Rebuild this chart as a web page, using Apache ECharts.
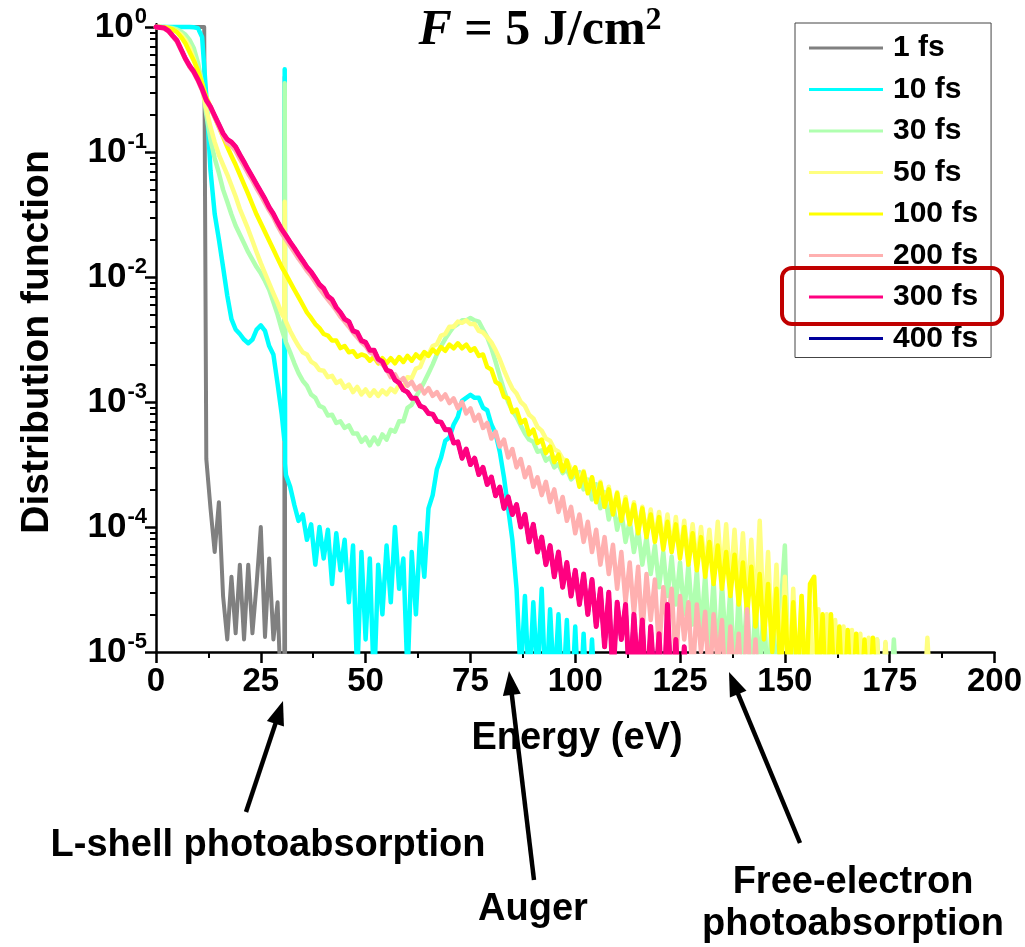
<!DOCTYPE html>
<html>
<head>
<meta charset="utf-8">
<script src="https://cdn.jsdelivr.net/npm/echarts@6/dist/echarts.min.js"></script>
<style>
  html, body { margin: 0; padding: 0; background: #fff; }
  #chart { width: 1025px; height: 947px; }
</style>
</head>
<body>
<div id="chart"></div>
<script>
// ---------------- DATA ----------------
// Energy grid (eV), 1 eV steps, index i -> i eV
const energy = Array.from({ length: 201 }, (_, i) => i);
// extra energies for sharp features
const edgeEnergy = [11.5];
const spikeEnergy = [30.6, 30.7, 30.8];

const xTicks = [0, 25, 50, 75, 100, 125, 150, 175, 200];
const yMajor = [1e-5, 1e-4, 1e-3, 1e-2, 1e-1, 1];

const seriesNames = ['1 fs', '10 fs', '30 fs', '50 fs', '100 fs', '200 fs', '300 fs', '400 fs'];

// 1 fs
const f1 = [
  1,1,1,1,1,1,1,1,1,1,
  1,1,3.5e-4,1.41e-4,6.3e-5,1.58e-4,2.8e-5,1.26e-5,4e-5,1.41e-5,
  5e-5,1.26e-5,5e-5,1.41e-5,3.5e-5,1e-4,1.32e-5,5.6e-5,1.26e-5,2.5e-5,
  3e-6,3e-6
];
const f1Edge = [1.0];
const f1Spike = [3e-6, 0.4, 3e-6];

// 10 fs
const f10 = [
  1,1,1,1,1,1,1,1,1,0.995,
  0.98,0.83,0.28,0.071,0.032,0.02,0.012,0.0071,0.0046,0.0038,
  0.0035,0.00316,0.00295,0.00316,0.0038,0.0041,0.0037,0.0028,0.0024,0.0014,
  7.9e-4,2.6e-4,2.1e-4,1.5e-4,1.12e-4,1.26e-4,7.9e-5,1.05e-4,5e-5,1e-4,
  5.6e-5,9.5e-5,3.5e-5,8.9e-5,4.5e-5,7.9e-5,2.5e-5,7.1e-5,6.3e-6,6.3e-5,
  1.26e-5,5.6e-5,5e-6,5e-5,2e-5,7.1e-5,2.5e-5,1e-4,3.2e-5,5.6e-5,
  6.3e-6,6.3e-5,2e-5,8.9e-5,4e-5,1.41e-4,1.8e-4,2.9e-4,3.6e-4,4.9e-4,
  5.2e-4,6.6e-4,7.6e-4,1.02e-3,1.08e-3,1.14e-3,1.08e-3,1.08e-3,9.0e-4,8.6e-4,
  6.6e-4,5.6e-4,4e-4,2.5e-4,1.41e-4,7.9e-5,3.2e-5,6.3e-6,2.8e-5,5e-6,
  2.5e-5,6e-6,3.2e-5,4e-6,2.2e-5,5e-6,2e-5,4e-6,1.8e-5,3e-6,
  1.6e-5,3e-6,1.4e-5,3e-6,1.26e-5,3e-6
];
const f10Spike = [5e-4, 0.46, 3.2e-4];

// 30 fs
const f30 = [
  1,1,1,0.99,0.98,0.955,0.92,0.87,0.79,0.68,
  0.52,0.355,0.2,0.126,0.089,0.068,0.05,0.04,0.0316,0.0257,
  0.0219,0.0186,0.0158,0.0138,0.012,0.0107,0.0093,0.0079,0.0063,0.005,
  0.0038,0.003,0.0025,0.00204,0.0017,0.00148,0.00135,0.00115,0.00108,0.00093,
  9e-4,7.8e-4,7.9e-4,6.8e-4,7e-4,6.2e-4,6.5e-4,5.6e-4,5.6e-4,4.8e-4,
  5.2e-4,4.5e-4,5.2e-4,4.6e-4,5.5e-4,5.0e-4,6.0e-4,5.8e-4,7.0e-4,7.0e-4,
  9e-4,9.5e-4,0.0011,0.00126,0.00145,0.0017,0.002,0.0024,0.0028,0.0032,
  0.0036,0.004,0.0042,0.0045,0.0045,0.0047,0.0045,0.0044,0.0038,0.0033,
  0.0027,0.0021,0.0016,0.00125,0.001,8.5e-4,7.6e-4,6.5e-4,5.6e-4,5e-4,
  4.8e-4,4e-4,4.1e-4,3.4e-4,3.6e-4,3e-4,3.2e-4,2.7e-4,2.9e-4,2.4e-4,
  2.6e-4,2.75e-4,2e-4,2.4e-4,1.66e-4,2.2e-4,1.41e-4,1.9e-4,1.15e-4,1.58e-4,
  9.5e-5,1.32e-4,7.6e-5,1.12e-4,6.3e-5,9.5e-5,5e-5,8.3e-5,4.2e-5,7.1e-5,
  3.3e-5,6.3e-5,2.8e-5,5.8e-5,2.4e-5,5.2e-5,2e-5,5e-5,1.66e-5,4.5e-5,
  1.4e-5,4.2e-5,1.12e-5,3.8e-5,8e-6,3.5e-5,1e-5,3.2e-5,6e-6,3e-5,
  8e-6,2.8e-5,5e-6,2.6e-5,6e-6,2.5e-5,4e-6,2.4e-5,5e-6,2.2e-5,
  7.1e-5,4e-6,2e-5,3e-6,1.8e-5,3e-6,1.6e-5,3e-6,1.5e-5,3e-6,
  1.4e-5,3e-6,1.3e-5,3e-6,1.26e-5,3e-6,1.2e-5,3e-6,1.15e-5,3e-6,
  1.1e-5,3e-6,1.26e-5,3e-6,1.17e-5,3e-6,1.26e-5,3e-6
];
const f30Spike = [3.3e-3, 0.355, 3.2e-3];

// 50 fs
const f50 = [
  1,1,0.99,0.98,0.955,0.92,0.87,0.79,0.69,0.56,
  0.44,0.32,0.22,0.158,0.12,0.095,0.079,0.066,0.054,0.044,
  0.035,0.029,0.024,0.0195,0.0158,0.0129,0.0107,0.0089,0.0074,0.0062,
  0.0051,0.0044,0.0037,0.0032,0.0028,0.0025,0.0024,0.0021,0.002,0.0018,
  0.00178,0.00158,0.00162,0.00142,0.00148,0.0013,0.00138,0.0012,0.00132,0.00115,
  0.00126,0.00112,0.00124,0.00112,0.00124,0.00115,0.00128,0.0012,0.00138,0.0013,
  0.00158,0.00155,0.00185,0.0019,0.0023,0.0024,0.0028,0.0029,0.0034,0.0035,
  0.004,0.004,0.0044,0.0043,0.0045,0.0042,0.0042,0.0037,0.0036,0.0033,
  0.003,0.0026,0.0022,0.0018,0.0015,0.00128,0.00117,0.001,9.3e-4,7.9e-4,
  7.4e-4,6.3e-4,5.9e-4,5.1e-4,4.9e-4,4.2e-4,4e-4,3.5e-4,3.4e-4,2.9e-4,
  2.9e-4,2.4e-4,2.8e-4,2e-4,2.5e-4,1.66e-4,2.3e-4,1.48e-4,2.1e-4,1.32e-4,
  1.9e-4,1.17e-4,1.74e-4,1.05e-4,1.58e-4,9.3e-5,1.45e-4,8.7e-5,1.38e-4,7.9e-5,
  1.32e-4,7.2e-5,1.26e-4,6.6e-5,1.2e-4,6e-5,1.12e-4,5.5e-5,1.05e-4,5e-5,
  1e-4,4.6e-5,9.5e-5,4.2e-5,1.1e-4,3.8e-5,1.05e-4,3.3e-5,9.5e-5,2.8e-5,
  8.9e-5,2.5e-5,7.9e-5,2e-5,1.12e-4,1.6e-5,6.3e-5,1.12e-5,5e-5,8e-6,
  4e-5,6e-6,3.2e-5,5e-6,2.8e-5,4e-6,2.5e-5,4e-6,2.2e-5,3e-6,
  2e-5,3e-6,1.8e-5,3e-6,1.6e-5,3e-6,1.5e-5,3e-6,1.4e-5,3e-6,
  1.3e-5,3e-6,1.26e-5,3e-6,1.2e-5,3e-6,null,null,null,null,
  null,null,null,3e-6,1.3e-5,3e-6
];
const f50Spike = [4.7e-3, 0.04, 4.6e-3];

// 100 fs
const f100 = [
  1,1,0.99,0.98,0.955,0.91,0.83,0.74,0.63,0.54,
  0.45,0.355,0.275,0.23,0.19,0.158,0.132,0.11,0.093,0.079,
  0.066,0.055,0.046,0.038,0.0316,0.0269,0.0229,0.0195,0.0166,0.0141,
  0.012,0.0105,0.0091,0.0079,0.0069,0.006,0.0052,0.0047,0.0042,0.0039,
  0.0035,0.0034,0.0031,0.0031,0.0027,0.0028,0.0025,0.00255,0.0023,0.0024,
  0.00234,0.00214,0.00229,0.00204,0.00224,0.00204,0.00224,0.00204,0.00229,0.00209,
  0.00234,0.00214,0.0024,0.00224,0.00251,0.00234,0.00263,0.00245,0.00275,0.00257,
  0.00288,0.00269,0.00295,0.00269,0.00288,0.00257,0.00269,0.00234,0.0024,0.0019,
  0.00182,0.00145,0.00138,0.0011,0.00107,8.3e-4,8.7e-4,6.8e-4,7.2e-4,5.5e-4,
  6e-4,4.7e-4,5e-4,3.9e-4,4.4e-4,3.3e-4,3.8e-4,2.8e-4,3.4e-4,2.5e-4,
  3e-4,2.1e-4,2.75e-4,1.86e-4,2.5e-4,1.58e-4,2.24e-4,1.45e-4,2e-4,1.26e-4,
  1.86e-4,1.12e-4,1.66e-4,1.05e-4,1.51e-4,8.9e-5,1.41e-4,8.3e-5,1.26e-4,7.6e-5,
  1.2e-4,6.6e-5,1.1e-4,6.3e-5,1.05e-4,5.6e-5,1e-4,5e-5,8.9e-5,4.5e-5,
  8.3e-5,4e-5,7.6e-5,3.5e-5,7.1e-5,3.2e-5,6.3e-5,2.8e-5,6e-5,2.4e-5,
  5.2e-5,2e-5,4.8e-5,1.6e-5,4.2e-5,1.26e-5,3.5e-5,1e-5,3.2e-5,6e-6,
  2.75e-5,5e-6,2.5e-5,6e-6,2.8e-5,4e-6,3.5e-5,4e-5,5e-6,2e-5,
  3e-6,2e-5,4e-6,1.6e-5,3e-6,1.5e-5,3e-6,1.4e-5,3e-6,1.26e-5,
  3e-6,1.3e-5,3e-6
];

// 200 fs
const f200 = [
  1,0.99,0.975,0.92,0.84,0.76,0.65,0.55,0.48,0.43,
  0.37,0.31,0.255,0.225,0.19,0.16,0.135,0.118,0.112,0.102,
  0.088,0.077,0.067,0.059,0.051,0.045,0.039,0.034,0.03,0.0256,
  0.0223,0.0199,0.0177,0.0158,0.014,0.0126,0.0112,0.0102,0.0091,0.0081,
  0.0073,0.0066,0.006,0.0054,0.0048,0.0044,0.004,0.0036,0.0033,0.003,
  0.0028,0.0025,0.0024,0.0021,0.002,0.00182,0.00158,0.00166,0.00145,0.00155,
  0.00135,0.00145,0.00126,0.00135,0.00117,0.00129,0.00112,0.0012,0.00105,0.00115,
  9.8e-4,1.07e-3,8.9e-4,1e-3,8.1e-4,8.9e-4,7.1e-4,7.9e-4,6.2e-4,6.8e-4,
  5.1e-4,5.8e-4,4.4e-4,5e-4,3.6e-4,4.2e-4,3e-4,3.5e-4,2.5e-4,3e-4,
  2.1e-4,2.5e-4,1.8e-4,2.3e-4,1.58e-4,2e-4,1.32e-4,1.74e-4,1.12e-4,1.45e-4,
  8.9e-5,1.26e-4,7.6e-5,1.1e-4,6.3e-5,9.5e-5,5e-5,8.3e-5,4.2e-5,7.2e-5,
  3.2e-5,6.3e-5,2.5e-5,5.2e-5,2e-5,4.8e-5,1.4e-5,4.2e-5,1.8e-5,3.8e-5,
  1e-5,3.3e-5,1.6e-5,3.2e-5,8e-6,2.8e-5,1.26e-5,2.5e-5,6e-6,2.4e-5,
  1e-5,2.1e-5,5e-6,2e-5,8e-6,1.8e-5,4e-6,1.6e-5,6e-6,1.4e-5,
  3e-6,2.2e-5,4e-6,1.26e-5,3e-6
];

// 300 fs
const f300 = [
  1,0.99,0.98,0.93,0.85,0.78,0.66,0.56,0.49,0.44,
  0.38,0.32,0.26,0.23,0.195,0.166,0.141,0.126,0.12,0.11,
  0.095,0.083,0.072,0.063,0.055,0.048,0.042,0.036,0.032,0.0275,
  0.024,0.0214,0.019,0.017,0.0151,0.0135,0.012,0.011,0.0098,0.0087,
  0.0081,0.007,0.0066,0.0057,0.0052,0.0046,0.0044,0.0037,0.0036,0.0031,
  0.003,0.0026,0.0026,0.0022,0.0021,0.0018,0.00175,0.0015,0.00142,0.00125,
  0.0012,0.00107,0.00107,0.00093,0.0009,0.00081,0.0008,0.0007,0.00069,0.0006,
  6e-4,4.7e-4,4.8e-4,3.55e-4,4.2e-4,3.16e-4,3.55e-4,2.63e-4,3e-4,2.19e-4,
  2.51e-4,1.78e-4,2.09e-4,1.41e-4,1.74e-4,1.26e-4,1.51e-4,1e-4,1.26e-4,7.6e-5,
  1.05e-4,6.3e-5,8.3e-5,5e-5,7.1e-5,4e-5,6.3e-5,3.3e-5,5.2e-5,2.8e-5,
  4.5e-5,2.4e-5,4.2e-5,2e-5,3.8e-5,1.6e-5,3.2e-5,1.1e-5,3e-5,6e-6,
  2.5e-5,1.26e-5,2.4e-5,5e-6,2e-5,6e-6,1.8e-5,4e-6,1.6e-5,5e-6,
  1.4e-5,3e-6,2.4e-5,4e-6,1.26e-5,3e-6,1.1e-5,3e-6
];

// 400 fs coincides with 300 fs (hidden beneath it)
const f400 = f300;

// ---------------- BUILD ----------------
function toPairs(vals, extraE, extraV) {
  const pts = [];
  vals.forEach((v, i) => pts.push([energy[i], v === null ? '-' : v]));
  if (extraE && extraV) extraE.forEach((e, k) => pts.push([e, extraV[k]]));
  pts.sort((a, b) => a[0] - b[0]);
  return pts;
}

const FONT = "'Liberation Sans', Arial, Helvetica, sans-serif";
const SERIF = "'Liberation Serif', 'Times New Roman', serif";

const yMinor = [];
for (let d = -5; d < 0; d++) for (let k = 2; k <= 9; k++) yMinor.push(+(k * Math.pow(10, d)).toPrecision(3));

function lineSeries(name, color, width, data, z) {
  return {
    name, type: 'line', data, color,
    showSymbol: false, symbol: 'none', clip: true, connectNulls: false,
    lineStyle: { color, width, join: 'round', cap: 'round' },
    itemStyle: { color },
    emphasis: { disabled: true },
    z: z, animation: false
  };
}

const series = [
  lineSeries('400 fs', '#00009C', 4, toPairs(f400), 1),
  lineSeries('1 fs', '#808080', 4, toPairs(f1, edgeEnergy.concat(spikeEnergy), f1Edge.concat(f1Spike)), 2),
  lineSeries('10 fs', '#00FFFF', 4.5, toPairs(f10, spikeEnergy, f10Spike), 3),
  lineSeries('30 fs', '#B0FFB0', 4.5, toPairs(f30, spikeEnergy, f30Spike), 4),
  lineSeries('50 fs', '#FFFF80', 4.5, toPairs(f50, spikeEnergy, f50Spike), 5),
  lineSeries('100 fs', '#FFFF00', 4.5, toPairs(f100), 6),
  lineSeries('200 fs', '#FFB0B0', 4.5, toPairs(f200), 7),
  lineSeries('300 fs', '#FF0080', 5, toPairs(f300), 8)
];

// arrows (annotation graphics)
function arrow(tail, tip) {
  const dx = tip[0] - tail[0], dy = tip[1] - tail[1];
  const len = Math.hypot(dx, dy);
  const ux = dx / len, uy = dy / len;
  const L = 24, W = 9;
  const bx = tip[0] - ux * L, by = tip[1] - uy * L;
  return [
    { type: 'line', shape: { x1: tail[0], y1: tail[1], x2: bx + ux * 2, y2: by + uy * 2 },
      style: { stroke: '#000', lineWidth: 4.5 }, z: 20 },
    { type: 'polygon', shape: { points: [tip, [bx - uy * W, by + ux * W], [bx + uy * W, by - ux * W]] },
      style: { fill: '#000' }, z: 20 }
  ];
}

function label(text, x, y, size) {
  return { type: 'text', x, y, z: 20,
    style: { text, fontFamily: FONT, fontWeight: 'bold', fontSize: size, fill: '#000',
      align: 'center', verticalAlign: 'middle' } };
}

const chart = echarts.init(document.getElementById('chart'), null, { renderer: 'canvas' });
chart.setOption({
  animation: false,
  backgroundColor: '#fff',
  grid: { left: 156, right: 30, top: 24.35, bottom: 295, containLabel: false },
  xAxis: {
    type: 'value', min: 0, max: 200, interval: 25,
    axisLine: { show: true, onZero: false, lineStyle: { color: '#000', width: 2.5 } },
    axisTick: { show: true, length: 11, lineStyle: { color: '#000', width: 2.5 } },
    minorTick: { show: true, splitNumber: 2, length: 6, lineStyle: { color: '#000', width: 2 } },
    splitLine: { show: false }, minorSplitLine: { show: false },
    axisLabel: { fontFamily: FONT, fontWeight: 'bold', fontSize: 33, color: '#000', margin: 13,
      customValues: xTicks }
  },
  yAxis: [{
    type: 'log', logBase: 10, min: 1e-5, max: 1.05,
    axisLine: { show: true, lineStyle: { color: '#000', width: 2.5 } },
    axisTick: { show: true, length: 11, lineStyle: { color: '#000', width: 2.5 }, customValues: yMajor },
    splitLine: { show: false },
    axisLabel: {
      customValues: yMajor, margin: 9, color: '#000',
      formatter: v => '{b|10}{s|' + Math.round(Math.log10(v)) + '}',
      rich: {
        b: { fontFamily: FONT, fontWeight: 'bold', fontSize: 35, color: '#000', verticalAlign: 'bottom', lineHeight: 36 },
        s: { fontFamily: FONT, fontWeight: 'bold', fontSize: 22, color: '#000', verticalAlign: 'bottom', lineHeight: 22, padding: [0, 0, 17, 1] }
      }
    }
  }, {
    type: 'log', logBase: 10, min: 1e-5, max: 1.05, position: 'left',
    axisLine: { show: false },
    axisTick: { show: true, length: 6, lineStyle: { color: '#000', width: 2 }, customValues: yMinor },
    axisLabel: { show: false }, splitLine: { show: false }
  }],
  legend: {
    data: seriesNames,
    orient: 'vertical', left: 795, top: 23,
    icon: 'rect', itemWidth: 74, itemHeight: 3, itemGap: 11.5,
    padding: [10, 13, 4, 14],
    borderColor: '#444', borderWidth: 1, backgroundColor: '#fff',
    selectedMode: false,
    textStyle: { fontFamily: FONT, fontWeight: 'bold', fontSize: 30, color: '#000', lineHeight: 30, padding: [0, 0, 0, 5] }
  },
  series: series,
  graphic: [
    { type: 'rect', z: 30, shape: { x: 782, y: 268, width: 220, height: 56, r: 10 },
      style: { fill: null, stroke: '#C00000', lineWidth: 4 } },
    { type: 'text', x: 540, y: 31, z: 20,
      style: { text: '{i|F} = 5 J/cm{s|2}', fontFamily: SERIF,
        fontWeight: 'bold', fontSize: 50, fill: '#000', align: 'center', verticalAlign: 'middle',
        rich: {
          i: { fontFamily: SERIF, fontWeight: 'bold', fontStyle: 'italic', fontSize: 50, fill: '#000', verticalAlign: 'bottom', lineHeight: 50 },
          s: { fontFamily: SERIF, fontWeight: 'bold', fontSize: 32, fill: '#000', verticalAlign: 'bottom', lineHeight: 32, padding: [0, 0, 19, 0] }
        } } },
    { type: 'text', x: 37, y: 342, rotation: Math.PI / 2, z: 20,
      style: { text: 'Distribution function', fontFamily: FONT, fontWeight: 'bold', fontSize: 39, fill: '#000',
        align: 'center', verticalAlign: 'middle' } },
    label('Energy (eV)', 577, 739, 38),
    label('L-shell photoabsorption', 268, 846, 38),
    label('Auger', 533, 910, 38),
    label('Free-electron', 853, 883, 38),
    label('photoabsorption', 853, 925, 38),
    ...arrow([246, 812], [283, 701]),
    ...arrow([534, 880], [509, 671]),
    ...arrow([800, 843], [729, 672])
  ]
});
</script>
</body>
</html>
